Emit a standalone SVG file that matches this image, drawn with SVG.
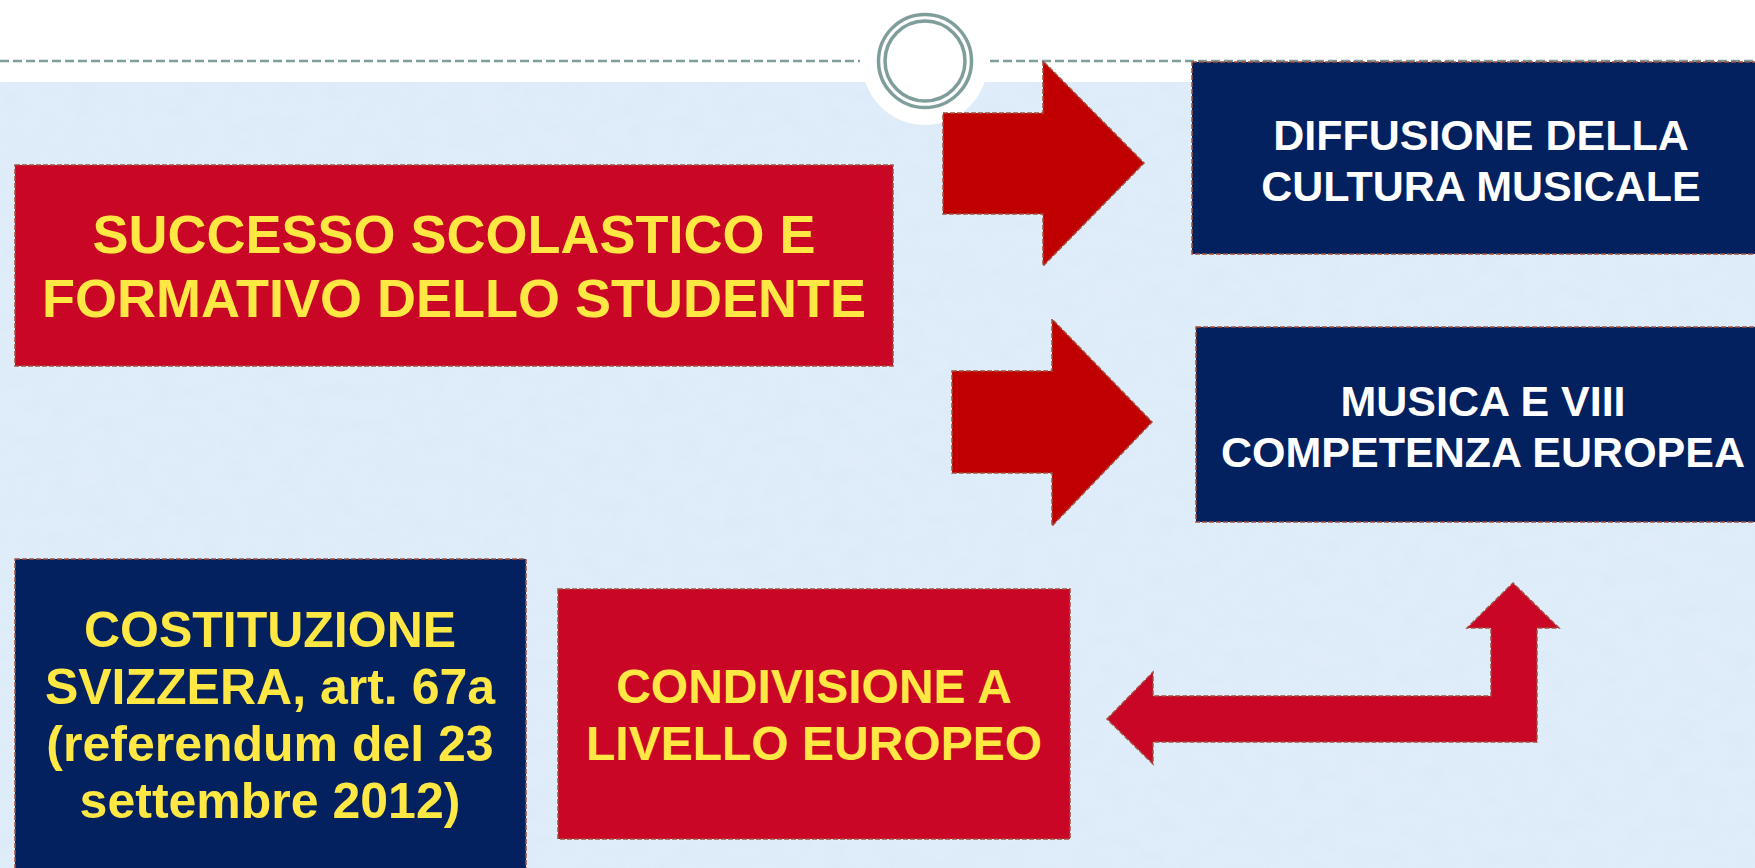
<svg xmlns="http://www.w3.org/2000/svg" width="1755" height="868" viewBox="0 0 1755 868">
  <style>
    .box { stroke: #A0503C; stroke-width: 1.5; stroke-dasharray: 5 2; }
    .red { fill: #C90626; }
    .navy { fill: #03205F; }
    .arrow { fill: #C00000; stroke: #A0503C; stroke-width: 1.5; stroke-dasharray: 5 2; }
    .bent { fill: #C90626; stroke: #A0503C; stroke-width: 1.5; stroke-dasharray: 5 2; }
    .t { font-family: "Liberation Sans", Arial, sans-serif; font-weight: bold; text-anchor: middle; }
    .yel { fill: #FFE843; }
    .wht { fill: #FFFFFF; }
    .hdr { stroke: #7F9E9B; stroke-width: 2.5; stroke-dasharray: 9 4; fill: none; }
  </style>
  <defs>
    <filter id="tex" x="0" y="0" width="100%" height="100%">
      <feTurbulence type="fractalNoise" baseFrequency="0.04 0.06" numOctaves="3" seed="3" result="n"/>
      <feColorMatrix in="n" type="matrix" values="0 0 0 0 0.80  0 0 0 0 0.87  0 0 0 0 0.95  0 0 0 0.6 -0.1"/>
    </filter>
  </defs>

  <!-- background -->
  <rect x="0" y="0" width="1755" height="868" fill="#FFFFFF"/>
  <rect x="0" y="82" width="1755" height="786" fill="#DDEBF9"/>
  <rect x="0" y="82" width="1755" height="786" filter="url(#tex)" opacity="0.8"/>

  <!-- header -->
  <g id="header">
    <line class="hdr" x1="0" y1="61" x2="860" y2="61"/>
    <line class="hdr" x1="990" y1="61" x2="1755" y2="61"/>
    <circle cx="925" cy="62" r="63" fill="#FFFFFF"/>
    <circle cx="925" cy="61" r="46.5" fill="none" stroke="#7F9E9B" stroke-width="3.5"/>
    <circle cx="925" cy="61" r="40" fill="none" stroke="#7F9E9B" stroke-width="3.5"/>
  </g>

  <!-- connectors -->
  <g id="connectors">
    <path class="arrow" d="M943,113 L1043,113 L1043,61 L1144,163 L1043,266 L1043,214 L943,214 Z"/>
    <path class="arrow" d="M952,371 L1052,371 L1052,319 L1152,422 L1052,526 L1052,473 L952,473 Z"/>
    <path class="bent" d="M1107,719 L1153,672 L1153,696 L1491,696 L1491,628 L1467,628 L1513,583 L1559,628 L1537,628 L1537,742 L1153,742 L1153,764 Z"/>
  </g>

  <!-- nodes -->
  <g id="successo">
    <rect class="box red" x="15" y="165" width="878" height="201"/>
    <text class="t yel" x="454" y="253" font-size="54">SUCCESSO SCOLASTICO E</text>
    <text class="t yel" x="454" y="317" font-size="54">FORMATIVO DELLO STUDENTE</text>
  </g>

  <g id="diffusione">
    <rect class="box navy" x="1192" y="62" width="580" height="192"/>
    <text class="t wht" x="1481" y="150" font-size="43">DIFFUSIONE DELLA</text>
    <text class="t wht" x="1481" y="201" font-size="43">CULTURA MUSICALE</text>
  </g>

  <g id="musica">
    <rect class="box navy" x="1196" y="327" width="580" height="195"/>
    <text class="t wht" x="1483" y="416" font-size="43">MUSICA E VIII</text>
    <text class="t wht" x="1483" y="467" font-size="43">COMPETENZA EUROPEA</text>
  </g>

  <g id="costituzione">
    <rect class="box navy" x="15" y="559" width="511" height="330"/>
    <text class="t yel" x="270" y="647" font-size="50">COSTITUZIONE</text>
    <text class="t yel" x="270" y="704" font-size="50">SVIZZERA, art. 67a</text>
    <text class="t yel" x="270" y="761" font-size="50">(referendum del 23</text>
    <text class="t yel" x="270" y="818" font-size="50">settembre 2012)</text>
  </g>

  <g id="condivisione">
    <rect class="box red" x="558" y="589" width="512" height="250"/>
    <text class="t yel" x="814" y="703" font-size="48">CONDIVISIONE A</text>
    <text class="t yel" x="814" y="760" font-size="48">LIVELLO EUROPEO</text>
  </g>
</svg>
